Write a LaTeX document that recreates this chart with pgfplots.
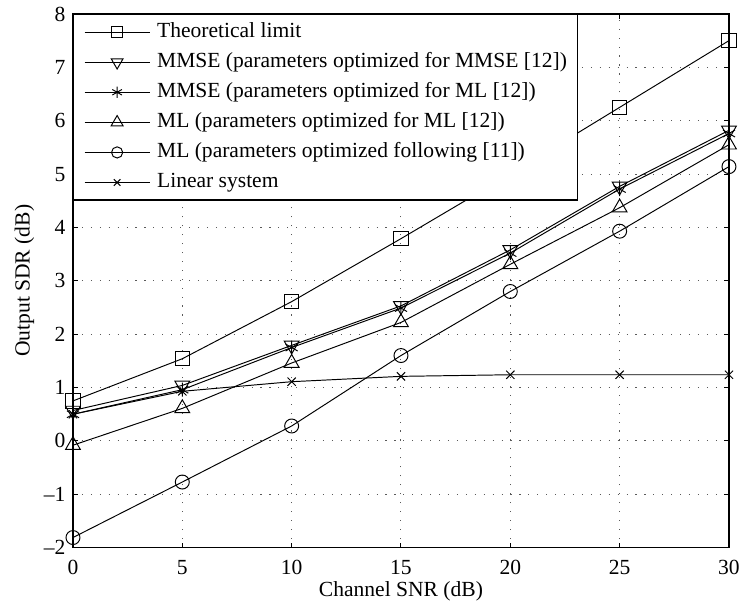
\documentclass[border=0pt]{standalone}
\usepackage{fontspec}
\setmainfont{Liberation Serif}
\usepackage{pgfplots}
\pgfplotsset{compat=1.18}
\begin{document}
\fontsize{11.1pt}{13pt}\selectfont
\begin{tikzpicture}
\begin{axis}[
  name=ax,
  scale only axis,
  width=338pt, height=275pt,
  xmin=0, xmax=30, ymin=-2, ymax=8,
  xtick={0,5,...,30}, ytick={-2,-1,...,8},
  yticklabels={\textendash2,\textendash1,0,1,2,3,4,5,6,7,8},
  /pgf/number format/assume math mode=true,
  tick align=inside, tick pos=both,
  major tick length=2.6pt,
  grid=major,
  grid style={line width=0.5pt, gray!70!black, dash pattern=on 0.6pt off 4pt},
  axis line style={line width=0.7pt},
  every tick/.style={black, line width=0.5pt},
  xticklabel style={yshift=-2.5pt},
  xlabel={Channel SNR (dB)},
  ylabel={Output SDR (dB)},
  xlabel style={at={(axis description cs:0.5,0)}, anchor=center, yshift=-22.7pt},
  ylabel style={at={(axis description cs:0,0.5)}, anchor=center, yshift=25pt},
  legend cell align=left,
  legend style={at={(0,1)}, anchor=north west, draw=black, line width=0.7pt,
    inner xsep=5.4pt, inner ysep=4.1pt, row sep=5.7pt, column sep=3.6pt,
    font=\fontsize{11.1pt}{13pt}\selectfont, nodes={inner sep=0pt, text height=7.6pt, text depth=2.2pt}},
  legend image code/.code={
    \draw[mark repeat=2,mark phase=2,#1,every mark/.append style={scale=0.8}] plot coordinates {(0pt,0pt) (16.75pt,0pt) (33.5pt,0pt)};
  },
]
\addplot[black, line width=0.5pt, mark=square, mark size=3.7pt, mark options={solid, fill=none, line width=0.5pt}] coordinates {(0,0.75) (5,1.54) (10,2.61) (15,3.79) (20,5.0) (25,6.25) (30,7.5)};
\addlegendentry{Theoretical limit}
\addplot[black, line width=0.5pt, mark=triangle, mark size=4.4pt, mark options={solid, fill=none, line width=0.5pt, rotate=180}] coordinates {(0,0.57) (5,1.04) (10,1.79) (15,2.53) (20,3.58) (25,4.77) (30,5.82)};
\addlegendentry{MMSE (parameters optimized for MMSE [12])\hspace{22pt}}
\addplot[black, line width=0.5pt, mark=asterisk, mark size=3.6pt, mark options={solid, fill=none, line width=0.5pt}] coordinates {(0,0.50) (5,0.96) (10,1.75) (15,2.49) (20,3.52) (25,4.72) (30,5.76)};
\addlegendentry{MMSE (parameters optimized for ML [12])}
\addplot[black, line width=0.5pt, mark=triangle, mark size=4.4pt, mark options={solid, fill=none, line width=0.5pt}] coordinates {(0,-0.08) (5,0.61) (10,1.46) (15,2.22) (20,3.31) (25,4.37) (30,5.55)};
\addlegendentry{ML (parameters optimized for ML [12])}
\addplot[black, line width=0.5pt, mark=o, mark size=3.6pt, mark options={solid, fill=none, line width=0.5pt}] coordinates {(0,-1.81) (5,-0.77) (10,0.28) (15,1.60) (20,2.80) (25,3.93) (30,5.14)};
\addlegendentry{ML (parameters optimized following [11])}
\addplot[black, line width=0.5pt, mark=x, mark size=3pt, mark options={solid, fill=none, line width=0.5pt}] coordinates {(0,0.50) (5,0.93) (10,1.11) (15,1.21) (20,1.24) (25,1.24) (30,1.24)};
\addlegendentry{Linear system}
\end{axis}
\pgfresetboundingbox
\path ([shift={(-37.6pt,-28.4pt)}]ax.south west) rectangle ([shift={(6.2pt,7.2pt)}]ax.north east);
\end{tikzpicture}
\end{document}
